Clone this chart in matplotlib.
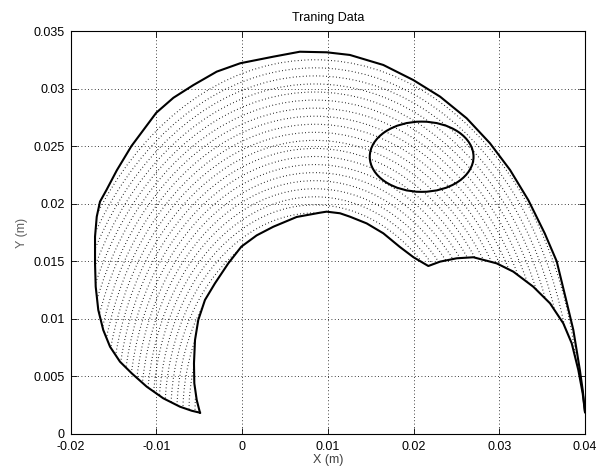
import numpy as np
import matplotlib
matplotlib.use("Agg")
import matplotlib.pyplot as plt
from matplotlib.patches import Arc, Ellipse, Polygon

# outer boundary of the workspace, right tip -> top -> left tip
outer_x = [0.0400, 0.03973, 0.0394, 0.03864, 0.0378, 0.0367, 0.0353, 0.0334, 0.03126,
           0.02892, 0.0262, 0.0231, 0.01998, 0.01648, 0.01258, 0.00988, 0.00674,
           0.00365, -0.0002, -0.00295, -0.00568, -0.0080, -0.0100, -0.0129,
           -0.0146, -0.0158, -0.01656, -0.01694, -0.01714, -0.01714, -0.01706,
           -0.01676, -0.01618, -0.01539, -0.01423, -0.01286, -0.01111, -0.00918,
           -0.00723, -0.00587, -0.0049]
outer_y = [0.0019, 0.00382, 0.00556, 0.00903, 0.01164, 0.0150, 0.01743, 0.0203, 0.02293,
           0.02525, 0.02742, 0.0293, 0.03074, 0.03205, 0.03292, 0.03315, 0.0332,
           0.03277, 0.0322, 0.03147, 0.0303, 0.0292, 0.0279, 0.0250,
           0.0229, 0.0212, 0.02018, 0.01887, 0.01714, 0.01482, 0.01279,
           0.01077, 0.00903, 0.00758, 0.00628, 0.00527, 0.00411, 0.0031,
           0.00237, 0.00202, 0.00185]

# inner boundary, left tip -> peak -> kink -> bump -> right tip
inner_x = [-0.0049, -0.00528, -0.00556, -0.0056, -0.00548, -0.0051, -0.00432,
           -0.00315, -0.0016, -0.00008, 0.00171, 0.00365, 0.00638, 0.0091, 0.00987,
           0.01143, 0.0126, 0.01454, 0.01648, 0.0184, 0.0200, 0.02173, 0.0231,
           0.02504, 0.02698, 0.0297, 0.03164, 0.03397, 0.03592, 0.03747, 0.03845,
           0.03922, 0.03973, 0.0400]
inner_y = [0.00185, 0.00295, 0.0044, 0.00614, 0.00816, 0.0099, 0.01164,
           0.01309, 0.01482, 0.01627, 0.01725, 0.0180, 0.01885, 0.01922, 0.01931,
           0.01917, 0.01887, 0.01829, 0.01743, 0.01625, 0.01535, 0.01459, 0.01497,
           0.01526, 0.01535, 0.01482, 0.0141, 0.01279, 0.01135, 0.00961, 0.00788,
           0.00556, 0.00353, 0.0019]

# obstacle (ellipse)
obst_center = (0.02095, 0.02408)
obst_width = 0.0121
obst_height = 0.0061

# sampled training points drawn as dotted arcs around the base
base = (0.0085, 0.0017)
arc_radii = [0.0105, 0.0112, 0.0119, 0.0126, 0.0133, 0.0140, 0.0147, 0.0154, 0.0161,
             0.0168, 0.0175, 0.0182, 0.0189, 0.0196, 0.0203, 0.0210, 0.0217, 0.0224,
             0.0231, 0.0238, 0.0245, 0.0252, 0.0259, 0.0266, 0.0273, 0.0280, 0.0287,
             0.0294, 0.0301, 0.0308]

xticks = [-0.02, -0.01, 0, 0.01, 0.02, 0.03, 0.04]
xtick_labels = ["-0.02", "-0.01", "0", "0.01", "0.02", "0.03", "0.04"]
yticks = [0, 0.005, 0.01, 0.015, 0.02, 0.025, 0.03, 0.035]
ytick_labels = ["0", "0.005", "0.01", "0.015", "0.02", "0.025", "0.03", "0.035"]

plt.rcParams['font.family'] = ['Liberation Sans', 'DejaVu Sans']
plt.rcParams['font.size'] = 9

fig = plt.figure(figsize=(6.02, 4.70), dpi=100)
ax = fig.add_axes([70.5 / 602, 36 / 470, 514.5 / 602, 403 / 470])

# region between the two boundaries, used to clip the point field
region = Polygon(np.column_stack([outer_x + inner_x, outer_y + inner_y]),
                 closed=True, transform=ax.transData, facecolor='none', edgecolor='none')
ax.add_patch(region)

for r in arc_radii:
    a = Arc(base, 2 * r, 2 * r, theta1=-10, theta2=190, color='k',
            lw=0.8, linestyle=(0, (0.7, 2.3)))
    ax.add_patch(a)
    a.set_clip_path(region)

ax.plot(outer_x, outer_y, color='k', lw=1.5)
ax.plot(inner_x, inner_y, color='k', lw=1.5)
ax.add_patch(Ellipse(obst_center, obst_width, obst_height, facecolor='none',
                     edgecolor='k', lw=1.5))

ax.set_xlim(-0.02, 0.04)
ax.set_ylim(0, 0.035)
ax.set_xticks(xticks)
ax.set_xticklabels(xtick_labels)
ax.set_yticks(yticks)
ax.set_yticklabels(ytick_labels)
ax.tick_params(direction='in', top=True, right=True, length=4, width=0.6)
ax.tick_params(axis='x', pad=5)
ax.tick_params(axis='y', pad=4)
ax.grid(True, color='k', linestyle=(0, (1, 3)), lw=0.6)
for s in ax.spines.values():
    s.set_linewidth(0.8)

ax.set_title("Traning Data", fontsize=9, pad=7)
ax.set_xlabel("X (m)", color='#404040', labelpad=1)
ax.set_ylabel("Y (m)", color='#606060', labelpad=4)

fig.savefig("out.png", dpi=100)
